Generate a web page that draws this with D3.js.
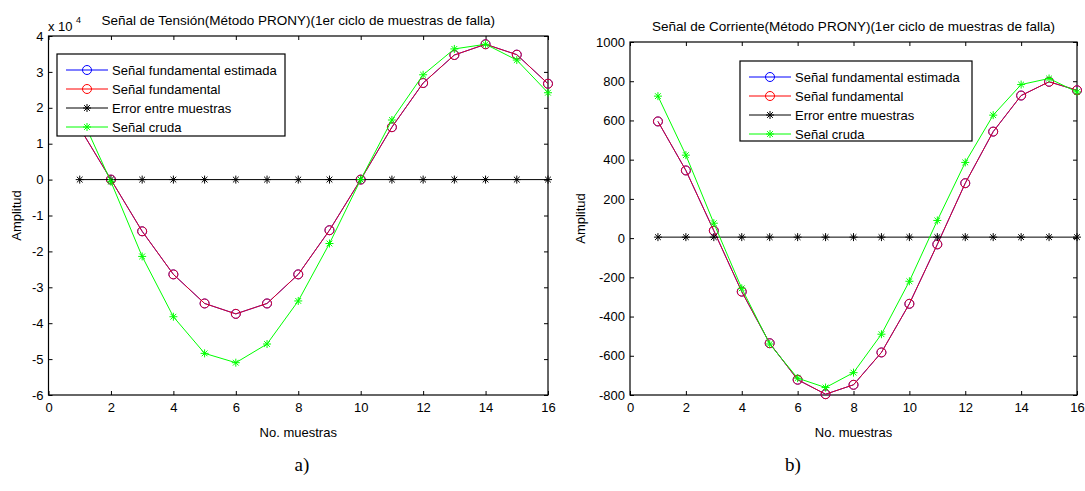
<!DOCTYPE html>
<html>
<head>
<meta charset="utf-8">
<script src="https://cdn.jsdelivr.net/npm/d3@7"></script>
<style>
  html, body { margin: 0; padding: 0; background: #fff; }
  svg { display: block; }
  text { fill: #000; }
</style>
</head>
<body>
<svg id="chart" width="1085" height="491"></svg>
<script>
// ---------------- DATA ----------------
const samples = [1, 2, 3, 4, 5, 6, 7, 8, 9, 10, 11, 12, 13, 14, 15, 16];

// Tension (values in volts, axis shown x 10^4)
const tensionEstimated   = [14400, 0, -14400, -26400, -34500, -37400, -34500, -26400, -14100, 0, 14600, 26900, 34700, 37700, 34800, 26700];
const tensionFundamental = [14400, 0, -14400, -26400, -34500, -37400, -34500, -26400, -14100, 0, 14600, 26900, 34700, 37700, 34800, 26700];
const tensionError       = [0, 0, 0, 0, 0, 0, 0, 0, 0, 0, 0, 0, 0, 0, 0, 0];
const tensionRaw         = [18500, -600, -21400, -38200, -48400, -51000, -45800, -33800, -17800, 0, 16600, 29200, 36400, 37700, 33300, 24200];

// Current
const currentEstimated   = [595, 345, 38, -273, -536, -722, -796, -748, -583, -335, -32, 280, 543, 727, 797, 754];
const currentFundamental = [595, 345, 38, -273, -536, -722, -796, -748, -583, -335, -32, 280, 543, 727, 797, 754];
const currentError       = [5, 5, 5, 5, 5, 5, 5, 5, 5, 5, 5, 5, 5, 5, 5, 5];
const currentRaw         = [724, 423, 76, -256, -540, -714, -762, -686, -490, -220, 90, 386, 627, 783, 814, 745];

const xTicks = [0, 2, 4, 6, 8, 10, 12, 14, 16];
const tensionTicks = [-60000, -50000, -40000, -30000, -20000, -10000, 0, 10000, 20000, 30000, 40000];
const currentTicks = [-800, -600, -400, -200, 0, 200, 400, 600, 800, 1000];

const legendLabels = ["Señal fundamental estimada", "Señal fundamental", "Error entre muestras", "Señal cruda"];
const seriesColors = ["#0000ff", "#ff0000", "#000000", "#00ff00"];
const seriesOpacity = [1, 0.85, 1, 1];
const seriesMarkers = ["circle", "circle", "star", "star"];

// ---------------- DRAW ----------------
const svg = d3.select("#chart");
const FONT = 13;
const SANS = "'Liberation Sans', Arial, Helvetica, sans-serif";
const SERIF = "'Liberation Serif', 'Times New Roman', serif";

function starPath(s) {
  const d = s * 0.72;
  return `M${-s},0L${s},0M0,${-s}L0,${s}M${-d},${-d}L${d},${d}M${-d},${d}L${d},${-d}`;
}

function drawMarker(g, type, x, y, color, op) {
  if (type === "circle") {
    g.append("circle").attr("cx", x).attr("cy", y).attr("r", 4.5)
      .attr("fill", "none").attr("stroke", color).attr("stroke-opacity", op).attr("stroke-width", 1);
  } else {
    g.append("path").attr("transform", `translate(${x},${y})`).attr("d", starPath(4))
      .attr("fill", "none").attr("stroke", color).attr("stroke-opacity", op).attr("stroke-width", 1);
  }
}

function panel(cfg) {
  const g = svg.append("g");
  const x = d3.scaleLinear().domain([0, 16]).range([cfg.left, cfg.right]);
  const y = d3.scaleLinear().domain(cfg.yDomain).range([cfg.bottom, cfg.top]);

  const axB = g.append("g").attr("transform", `translate(0,${cfg.bottom})`)
    .call(d3.axisBottom(x).tickValues(xTicks).tickSize(-4).tickPadding(8).tickFormat(d => String(d)));
  const axT = g.append("g").attr("transform", `translate(0,${cfg.top})`)
    .call(d3.axisTop(x).tickValues(xTicks).tickSize(-4).tickFormat(""));
  const axL = g.append("g").attr("transform", `translate(${cfg.left},0)`)
    .call(d3.axisLeft(y).tickValues(cfg.yTicks).tickSize(-4).tickPadding(5).tickFormat(cfg.yFormat));
  const axR = g.append("g").attr("transform", `translate(${cfg.right},0)`)
    .call(d3.axisRight(y).tickValues(cfg.yTicks).tickSize(-4).tickFormat(""));
  [axB, axT, axL, axR].forEach(a => {
    a.select(".domain").remove();
    a.selectAll("line").attr("stroke", "#000");
    a.selectAll("text").attr("font-size", FONT).style("font-family", SANS).attr("fill", "#000");
  });
  g.append("rect").attr("x", cfg.left).attr("y", cfg.top)
    .attr("width", cfg.right - cfg.left).attr("height", cfg.bottom - cfg.top)
    .attr("fill", "none").attr("stroke", "#000").attr("stroke-width", 1.2);

  const line = d3.line().x((d, i) => x(samples[i])).y(d => y(d));
  cfg.series.forEach((vals, k) => {
    const sg = g.append("g");
    sg.append("path").attr("d", line(vals)).attr("fill", "none")
      .attr("stroke", seriesColors[k]).attr("stroke-opacity", seriesOpacity[k]).attr("stroke-width", 1);
    vals.forEach((v, i) => drawMarker(sg, seriesMarkers[k], x(samples[i]), y(v), seriesColors[k], seriesOpacity[k]));
  });

  g.append("text").attr("x", (cfg.left + cfg.right) / 2).attr("y", cfg.top - 11)
    .attr("text-anchor", "middle").attr("font-size", 13.5).style("font-family", SANS).text(cfg.title);
  g.append("text").attr("x", (cfg.left + cfg.right) / 2).attr("y", 437)
    .attr("text-anchor", "middle").attr("font-size", FONT).style("font-family", SANS).text("No. muestras");
  g.append("text").attr("transform", `translate(${cfg.ylabelX},${(cfg.top + cfg.bottom) / 2}) rotate(-90)`)
    .attr("text-anchor", "middle").attr("font-size", FONT).style("font-family", SANS).text("Amplitud");

  const L = cfg.legend;
  const lg = g.append("g");
  lg.append("rect").attr("x", L.x).attr("y", L.y).attr("width", L.w).attr("height", L.h)
    .attr("fill", "#fff").attr("stroke", "#000").attr("stroke-width", 1.2);
  legendLabels.forEach((lab, k) => {
    const cy = L.y + 16 + k * 19;
    lg.append("line").attr("x1", L.x + 9).attr("x2", L.x + 51).attr("y1", cy).attr("y2", cy)
      .attr("stroke", seriesColors[k]).attr("stroke-width", 1);
    drawMarker(lg, seriesMarkers[k], L.x + 30, cy, seriesColors[k], 1);
    lg.append("text").attr("x", L.x + 55).attr("y", cy).attr("dy", "0.35em")
      .attr("font-size", FONT).style("font-family", SANS).text(lab);
  });
  return g;
}

const left = panel({
  left: 48.5, right: 548, top: 36, bottom: 395,
  yDomain: [-60000, 40000], yTicks: tensionTicks,
  yFormat: d => String(d / 10000),
  title: "Señal de Tensión(Método PRONY)(1er ciclo de muestras de falla)",
  ylabelX: 21,
  legend: { x: 57, y: 54, w: 228, h: 82 },
  series: [tensionEstimated, tensionFundamental, tensionError, tensionRaw]
});
left.append("text").attr("x", 48).attr("y", 31).attr("font-size", FONT).style("font-family", SANS).text("x 10");
left.append("text").attr("x", 76).attr("y", 23).attr("font-size", 9).style("font-family", SANS).text("4");

panel({
  left: 630, right: 1077, top: 42, bottom: 395,
  yDomain: [-800, 1000], yTicks: currentTicks,
  yFormat: d => String(d),
  title: "Señal de Corriente(Método PRONY)(1er ciclo de muestras de falla)",
  ylabelX: 585,
  legend: { x: 740, y: 61, w: 232, h: 80 },
  series: [currentEstimated, currentFundamental, currentError, currentRaw]
});

svg.append("text").attr("x", 302).attr("y", 471).attr("text-anchor", "middle")
  .style("font-family", SERIF).attr("font-size", 19).text("a)");
svg.append("text").attr("x", 793).attr("y", 471).attr("text-anchor", "middle")
  .style("font-family", SERIF).attr("font-size", 19).text("b)");
</script>
</body>
</html>
